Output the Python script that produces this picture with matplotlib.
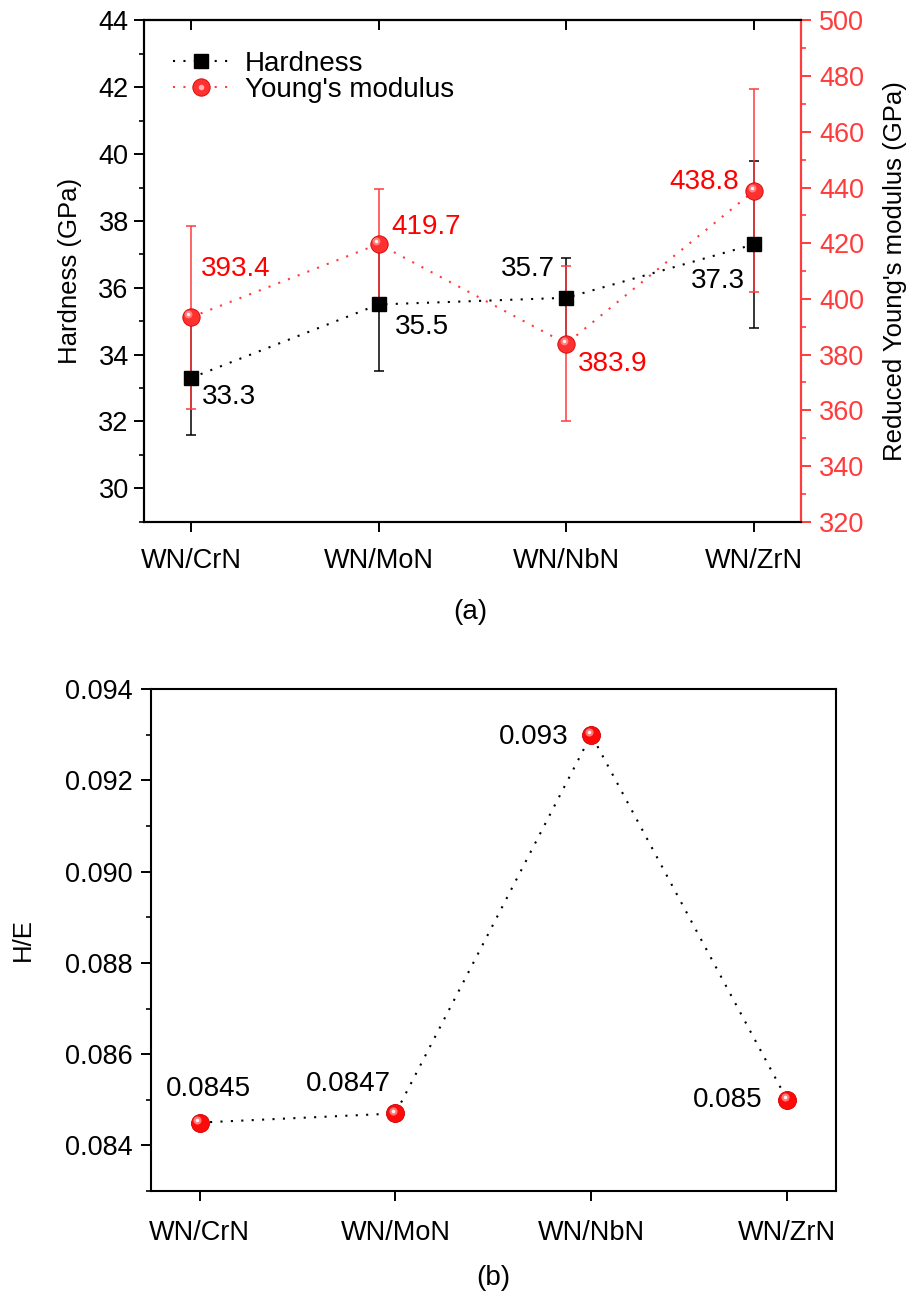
import matplotlib
matplotlib.use("Agg")
import matplotlib.pyplot as plt
from matplotlib.lines import Line2D
from matplotlib.legend_handler import HandlerTuple
from matplotlib.ticker import MultipleLocator, FormatStrFormatter
from matplotlib.transforms import offset_copy

plt.rcParams["font.family"] = ["Liberation Sans", "DejaVu Sans"]
plt.rcParams["font.size"] = 19.5

samples = ["WN/CrN", "WN/MoN", "WN/NbN", "WN/ZrN"]
hardness = [33.3, 35.5, 35.7, 37.3]          # GPa
hardness_err = [1.7, 2.0, 1.2, 2.5]
modulus = [393.4, 419.7, 383.9, 438.8]       # reduced Young's modulus, GPa
modulus_err = [32.8, 19.6, 27.8, 36.5]
h_over_e = [0.0845, 0.0847, 0.093, 0.085]
h_over_e_text = ["0.0845", "0.0847", "0.093", "0.085"]

RED_AX = "#ff3b3b"
RED_TXT = "#ff0000"
DOT = (0, (1, 4))
FS_LABEL = 18.5
FS_NOTE = 20


def balls(ax, x, y, ms, base, trans=None, z=5):
    """red 'sphere' markers: base disc + offset highlight"""
    tr = trans if trans is not None else ax.transData
    ax.plot(x, y, ls="none", marker="o", ms=ms, mfc=base, mec="#d00000", mew=0.6,
            transform=tr, zorder=z)
    hl = offset_copy(tr, fig=ax.figure, x=-ms * 0.14, y=ms * 0.16, units="points")
    ax.plot(x, y, ls="none", marker="o", ms=ms * 0.45, mfc="#ff8c8c", mec="none",
            alpha=0.85, transform=hl, zorder=z + 0.1)
    ax.plot(x, y, ls="none", marker="o", ms=ms * 0.2, mfc="white", mec="none",
            alpha=0.9, transform=hl, zorder=z + 0.2)


def style_axis(ax):
    for s in ax.spines.values():
        s.set_linewidth(1.5)
    ax.tick_params(axis="both", which="major", length=7, width=1.4, direction="out")
    ax.tick_params(axis="both", which="minor", length=3.5, width=1.2, direction="out")


fig = plt.figure(figsize=(9.1, 12.96), dpi=100)
x = list(range(len(samples)))

# ---------- (a) hardness + reduced modulus ----------
ax = fig.add_axes([0.1582, 0.5975, 0.722, 0.3867])
ax2 = ax.twinx()
style_axis(ax); style_axis(ax2)

ax.plot(x, hardness, ls=DOT, lw=1.5, color="black", zorder=2)
ax.errorbar(x, hardness, yerr=hardness_err, fmt="none", ecolor="black", elinewidth=1.1,
            capsize=3.8, capthick=1.1, zorder=3)

ax2.plot(x, modulus, ls=DOT, lw=1.5, color=RED_AX, zorder=2)
ax2.errorbar(x, modulus, yerr=modulus_err, fmt="none", ecolor=RED_AX, elinewidth=1.1,
             capsize=3.8, capthick=1.1, zorder=3)
balls(ax2, x, modulus, 12.5, "#ff3030")
# squares sit on top of the red error bars
ax2.plot(x, hardness, ls="none", marker="s", ms=10.5, mfc="black", mec="black",
         transform=ax.transData, zorder=6)

ax.set_xlim(-0.25, 3.25)
ax.set_ylim(29, 44)
ax2.set_ylim(320, 500)
ax.set_xticks(x)
ax.set_xticklabels(samples)
ax.tick_params(axis="x", pad=12)
ax.yaxis.set_major_locator(MultipleLocator(2))
ax.yaxis.set_minor_locator(MultipleLocator(1))
ax.tick_params(axis="y", which="major", pad=4)
# top frame: inward ticks at the sample positions, no labels
top = ax.secondary_xaxis("top")
top.set_xticks(x)
top.tick_params(axis="x", direction="in", length=7, width=1.4, labeltop=False)
top.spines["top"].set_linewidth(1.5)
ax2.yaxis.set_major_locator(MultipleLocator(20))
ax2.yaxis.set_minor_locator(MultipleLocator(10))
ax2.tick_params(axis="y", which="both", colors=RED_AX, pad=6)
ax2.spines["right"].set_color(RED_AX)

ax.set_ylabel("Hardness (GPa)", fontsize=FS_LABEL)
ax.yaxis.set_label_coords(-0.095, 0.5)
ax2.set_ylabel("Reduced Young's modulus (GPa)", fontsize=FS_LABEL)
ax2.yaxis.set_label_coords(1.125, 0.5)

h_off = [(8, -14, "left"), (11.5, -16.5, "left"), (-8, 21, "right"), (-6.5, -26.5, "right")]
m_off = [(7, 35, "left"), (9.5, 12, "left"), (8, -14.5, "left"), (-11, 6.5, "right")]
for i in x:
    dx, dy, ha = h_off[i]
    ax2.annotate(f"{hardness[i]:.1f}", (x[i], hardness[i]), xycoords=ax.transData,
                 xytext=(dx, dy), textcoords="offset points", ha=ha, va="center",
                 color="black", fontsize=FS_NOTE, zorder=7)
    dx, dy, ha = m_off[i]
    ax2.annotate(f"{modulus[i]:.1f}", (x[i], modulus[i]), xytext=(dx, dy),
                 textcoords="offset points", ha=ha, va="center", color=RED_TXT,
                 fontsize=FS_NOTE, zorder=7)

hdl_h = Line2D([], [], ls=DOT, lw=1.5, color="black", marker="s", ms=10.5, mfc="black")
hdl_m = Line2D([], [], ls=DOT, lw=1.5, color=RED_AX, marker="o", ms=12.5, mfc="#ff3030",
               mec="#d00000", mew=0.6)
hdl_mh = Line2D([], [], ls="none", marker="o", ms=4, mfc="#ffb0b0", mec="none")
ax2.legend([hdl_h, (hdl_m, hdl_mh)], ["Hardness", "Young's modulus"],
           handler_map={tuple: HandlerTuple(ndivide=1)},
           loc="upper left", bbox_to_anchor=(0.044, 0.94), frameon=False, fontsize=FS_NOTE,
           borderpad=0, borderaxespad=0, handlelength=2.0, handletextpad=0.6,
           labelspacing=0.02)

fig.text(0.5166, 1 - 611.7 / 1296, "(a)", ha="center", va="center", fontsize=FS_NOTE)

# ---------- (b) H/E ratio ----------
bx = fig.add_axes([0.1656, 0.0810, 0.7531, 0.3873])
style_axis(bx)
bx.plot(x, h_over_e, ls=DOT, lw=1.5, color="black", zorder=2)
balls(bx, x, h_over_e, 13, "#ff0a0a")
bx.set_xlim(-0.25, 3.25)
bx.set_ylim(0.083, 0.094)
bx.set_xticks(x)
bx.set_xticklabels(samples)
bx.tick_params(axis="x", pad=14)
bx.yaxis.set_major_locator(MultipleLocator(0.002))
bx.yaxis.set_minor_locator(MultipleLocator(0.001))
bx.yaxis.set_major_formatter(FormatStrFormatter("%.3f"))
bx.tick_params(axis="y", which="major", pad=6)
bx.set_ylabel("H/E", fontsize=FS_LABEL)
bx.yaxis.set_label_coords(-0.169, 0.5)

e_off = [(6.5, 24.5, "center"), (-3, 21, "right"), (-16.5, -2, "right"), (-18, 0, "right")]
for i in x:
    dx, dy, ha = e_off[i]
    bx.annotate(h_over_e_text[i], (x[i], h_over_e[i]), xytext=(dx, dy),
                textcoords="offset points", ha=ha, va="center", color="black",
                fontsize=FS_NOTE, zorder=7)

fig.text(0.5418, 1 - 1278 / 1296, "(b)", ha="center", va="center", fontsize=FS_NOTE)

fig.savefig("out.png", dpi=100, facecolor="white")
